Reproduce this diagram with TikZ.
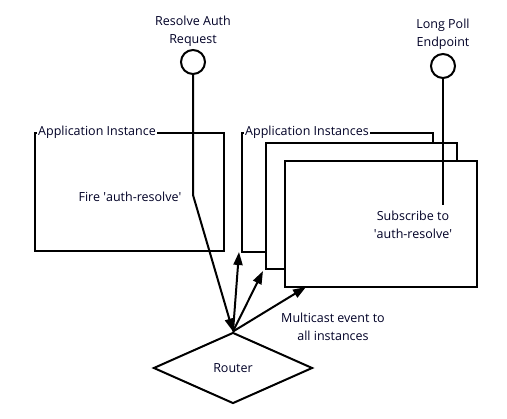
\documentclass[tikz,border=0pt]{standalone}
\usepackage{fontspec}
\setmainfont{Open Sans}
\usetikzlibrary{shapes.geometric,arrows.meta}
\begin{document}
\begin{tikzpicture}[x=1pt,y=-1pt,
  every node/.style={font=\fontsize{12.5}{18}\selectfont,text=black!85!blue},
  box/.style={draw,line width=2pt,fill=white,inner sep=0pt},
  ttl/.style={fill=white,inner sep=1pt,anchor=west},
  lbl/.style={align=center,inner sep=0pt},
  endpt/.style={circle,draw,line width=2pt,minimum size=24pt,inner sep=0pt},
  wire/.style={line width=2pt},
  arr/.style={line width=2pt,-{Triangle[length=13pt,width=9pt]}}]
\useasboundingbox (0,0) rectangle (507,419);
% endpoints
\node[endpt] (res) at (193,62) {};
\node[lbl] (restext) at (193,31) {Resolve Auth\\Request};
\node[endpt] (poll) at (443,66) {};
\node[lbl] (polltext) at (443,34) {Long Poll\\Endpoint};
% single instance
\node[box,minimum width=189pt,minimum height=118pt] (inst) at (129.5,192) {};
\node[ttl] (insttitle) at ([xshift=3pt]inst.north west) {Application Instance};
\node[lbl] (fire) at (130,197) {Fire \textquotesingle auth-resolve\textquotesingle};
% stacked instances
\node[box,minimum width=191pt,minimum height=119pt] (back) at (337.5,192.5) {};
\node[ttl] (backtitle) at ([xshift=3pt]back.north west) {Application Instances};
\node[box,minimum width=191pt,minimum height=126pt] (mid) at (361.5,206) {};
\node[box,minimum width=192pt,minimum height=126pt] (front) at (381,224) {};
\node[lbl] (sub) at (413,225) {Subscribe to\\\textquotesingle auth-resolve\textquotesingle};
% router
\node[draw,diamond,line width=2pt,minimum width=159pt,minimum height=71pt,inner sep=0pt] (router) at (233,368) {Router};
\node[lbl] (multi) at (333,327) {Multicast event to\\all instances};
% connectors
\coordinate (bend) at (193,195);
\coordinate (pollend) at (443,205);
\draw[wire] (poll.south) -- (pollend);
\draw[arr] (res.south) -- (bend) -- (router.north);
\coordinate (t1) at (239,252);
\coordinate (t2) at (263,271);
\coordinate (t3) at (306,287);
\draw[arr] (router.north) -- (t1);
\draw[arr] (router.north) -- (t2);
\draw[arr] (router.north) -- (t3);
\end{tikzpicture}
\end{document}
